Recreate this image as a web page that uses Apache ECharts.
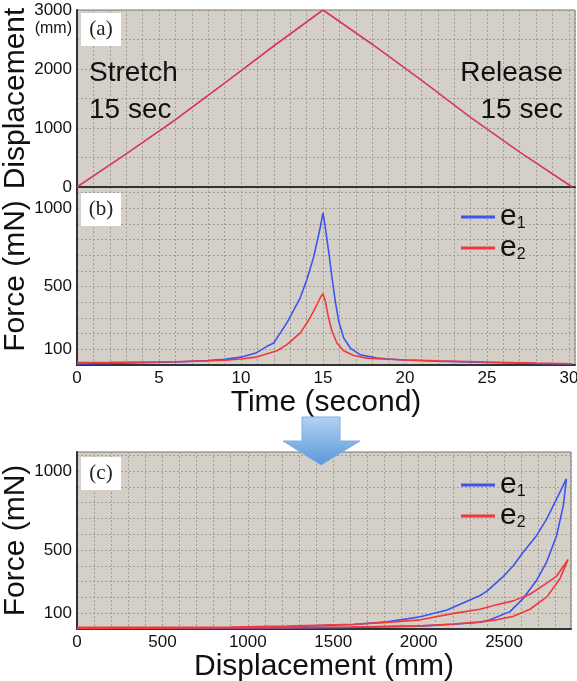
<!DOCTYPE html>
<html><head><meta charset="utf-8">
<script src="https://cdn.jsdelivr.net/npm/echarts@6/dist/echarts.min.js"></script>
<style>html,body{margin:0;padding:0;background:#fff}#c{width:577px;height:681px}</style>
</head><body><div id="c"></div>
<script>
// (a) displacement vs time
const timeA = [0, 3, 6, 9, 12, 15, 18, 21, 24, 27, 30.2];
const dispA = [0, 560, 1140, 1760, 2390, 3000, 2420, 1810, 1180, 590, 0];

// (b) force vs time
const timeB1 = [0, 2, 4, 6, 8, 9, 10, 10.9, 11.59, 12.0, 12.2, 12.8, 13.62, 14.03, 14.43, 14.84, 15.0, 15.14, 15.34, 15.55, 15.75, 15.96, 16.26, 16.67, 17.28, 18.3, 19, 20, 22, 25, 28, 30.2];
const forceB1 = [6, 10, 14, 19, 28, 36, 50, 76, 119, 140, 173, 269, 430, 548, 687, 880, 970, 880, 730, 558, 408, 280, 173, 108, 65, 44, 38, 32, 24, 16, 10, 6];
const timeB2 = [0, 2, 4, 6, 8, 9, 10, 10.9, 11.59, 12.2, 12.8, 13.62, 14.03, 14.43, 14.84, 15.0, 15.14, 15.34, 15.55, 15.85, 16.26, 16.87, 17.69, 18.3, 20, 22, 25, 28, 30.2];
const forceB2 = [16, 17, 19, 21, 27, 31, 38, 50, 72, 91, 130, 205, 269, 344, 430, 455, 408, 301, 215, 140, 91, 61, 44, 40, 32, 26, 19, 12, 8];

// (c) force vs displacement (stretch branch then release branch)
const dispC1 = [0, 300, 600, 900, 1229, 1620, 1815, 2010, 2166, 2283, 2360, 2400, 2498, 2554, 2613, 2691, 2750, 2808, 2865,
                2847, 2808, 2750, 2691, 2613, 2535, 2418, 2360, 2205, 2010, 1600, 1200, 800, 400, 0];
const forceC1 = [6, 6, 7, 8, 14, 28, 45, 78, 120, 175, 212, 240, 335, 400, 487, 592, 697, 823, 950,
                 781, 592, 425, 309, 194, 110, 58, 43, 30, 18, 10, 6, 4, 3, 2];
const dispC2 = [0, 300, 600, 900, 1229, 1620, 1815, 2010, 2205, 2360, 2450, 2554, 2652, 2750, 2808, 2875,
                2828, 2752, 2652, 2554, 2457, 2360, 2205, 2010, 1600, 1200, 800, 400, 0];
const forceC2 = [10, 10, 11, 12, 18, 30, 42, 58, 99, 125, 152, 178, 220, 290, 335, 440,
                 320, 205, 125, 80, 58, 45, 32, 20, 12, 8, 6, 5, 5];

const timeTicks = [0, 5, 10, 15, 20, 25, 30];
const dispTicksA = [0, 1000, 2000, 3000];
const forceTicks = [100, 500, 1000];
const dispTicksC = [0, 500, 1000, 1500, 2000, 2500];

const zip = (a, b) => a.map((v, i) => [v, b[i]]);
const FONT = 'Liberation Sans';
const BLUE = '#3a55f0', RED = '#f03a3a';
const BG = '#d4d0c8';
const gridLine = {show: true, lineStyle: {color: '#a29e97', type: [2, 2], width: 1}};
const axisLine = {show: true, onZero: false, lineStyle: {color: '#333', width: 2}};
const lbl = (list) => ({fontFamily: FONT, fontSize: 17, color: '#111', margin: 5,
  formatter: v => (list.indexOf(Math.round(v * 1000) / 1000) >= 0 ? String(v) : '')});
const nameStyle = {fontFamily: FONT, fontSize: 30, color: '#111'};

const chart = echarts.init(document.getElementById('c'), null, {renderer: 'canvas'});
const gridBase = {show: true, backgroundColor: BG, borderColor: '#777', borderWidth: 1, containLabel: false, outerBoundsMode: 'none'};

const legendBase = (top) => ({
  top: top, left: 456, orient: 'vertical', icon: 'rect', itemWidth: 34, itemHeight: 3, itemGap: 1,
  selectedMode: false, data: ['e1', 'e2'], z: 20,
  formatter: n => 'e{s|' + n.slice(1) + '}',
  textStyle: {fontFamily: FONT, fontSize: 30, lineHeight: 30, color: '#111',
    rich: {s: {fontFamily: FONT, fontSize: 16, lineHeight: 16, verticalAlign: 'bottom', color: '#111'}}}
});

const panelLabel = (y, txt) => ({
  type: 'group', z: 100, children: [
    {type: 'rect', z: 100, shape: {x: 81, y: y, width: 40, height: 33}, style: {fill: '#fff'}},
    {type: 'text', z: 101, x: 101, y: y + 16.5, style: {text: txt, fontFamily: 'Liberation Serif', fontSize: 21, fill: '#222', align: 'center', verticalAlign: 'middle'}}
  ]});

const yName = (name) => ({name: name, nameLocation: 'middle', nameGap: 46, nameMoveOverlap: false, nameTextStyle: nameStyle});

chart.setOption({
  animation: false,
  grid: [
    Object.assign({left: 77, top: 10, right: 2, height: 177}, gridBase),
    Object.assign({left: 77, top: 187, right: 2, height: 178}, gridBase),
    Object.assign({left: 77, top: 452, right: 6, height: 177}, gridBase)
  ],
  xAxis: [
    {gridIndex: 0, type: 'value', min: 0, max: 30.37, interval: 1, axisLine: axisLine, axisTick: {show: false}, axisLabel: {show: false}, splitLine: gridLine},
    {gridIndex: 1, type: 'value', min: 0, max: 30.37, interval: 1, axisLine: axisLine, axisTick: {show: false}, axisLabel: lbl(timeTicks), splitLine: gridLine,
      name: 'Time (second)', nameLocation: 'middle', nameGap: 18, nameTextStyle: nameStyle},
    {gridIndex: 2, type: 'value', min: 0, max: 2892, interval: 100, axisLine: axisLine, axisTick: {show: false}, axisLabel: lbl(dispTicksC), splitLine: gridLine,
      name: 'Displacement (mm)', nameLocation: 'middle', nameGap: 17, nameTextStyle: nameStyle}
  ],
  yAxis: [
    Object.assign({gridIndex: 0, type: 'value', min: 0, max: 3000, interval: 500, axisLine: axisLine, axisTick: {show: false}, axisLabel: lbl(dispTicksA), splitLine: gridLine}, yName('Displacement')),
    Object.assign({gridIndex: 1, type: 'value', min: 0, max: 1135, interval: 100, axisLine: axisLine, axisTick: {show: false}, axisLabel: lbl(forceTicks), splitLine: gridLine}, yName('Force (mN)')),
    Object.assign({gridIndex: 2, type: 'value', min: 0, max: 1120, interval: 100, axisLine: axisLine, axisTick: {show: false}, axisLabel: lbl(forceTicks), splitLine: gridLine}, yName('Force (mN)'))
  ],
  legend: [legendBase(197), legendBase(465)],
  series: [
    {type: 'line', name: 'disp', xAxisIndex: 0, yAxisIndex: 0, data: zip(timeA, dispA), showSymbol: false, lineStyle: {color: '#d4356c', width: 1.6}, itemStyle: {color: '#d4356c'}},
    {type: 'line', name: 'e1', xAxisIndex: 1, yAxisIndex: 1, data: zip(timeB1, forceB1), showSymbol: false, lineStyle: {color: BLUE, width: 1.6}, itemStyle: {color: BLUE}},
    {type: 'line', name: 'e2', xAxisIndex: 1, yAxisIndex: 1, data: zip(timeB2, forceB2), showSymbol: false, lineStyle: {color: RED, width: 1.6}, itemStyle: {color: RED}},
    {type: 'line', name: 'e1', xAxisIndex: 2, yAxisIndex: 2, data: zip(dispC1, forceC1), showSymbol: false, lineStyle: {color: BLUE, width: 1.6}, itemStyle: {color: BLUE}},
    {type: 'line', name: 'e2', xAxisIndex: 2, yAxisIndex: 2, data: zip(dispC2, forceC2), showSymbol: false, lineStyle: {color: RED, width: 1.6}, itemStyle: {color: RED}}
  ],
  graphic: [
    panelLabel(13, '(a)'), panelLabel(193, '(b)'), panelLabel(457, '(c)'),
    {type: 'text', z: 100, x: 72, y: 29, style: {text: '(mm)', fontFamily: FONT, fontSize: 16, fill: '#111', align: 'right', verticalAlign: 'middle'}},
    {type: 'text', z: 100, x: 89, y: 92, style: {text: 'Stretch\n15 sec', fontFamily: FONT, fontSize: 28, lineHeight: 37, fill: '#111', align: 'left', verticalAlign: 'middle'}},
    {type: 'text', z: 100, x: 563, y: 92, style: {text: 'Release\n15 sec', fontFamily: FONT, fontSize: 28, lineHeight: 37, fill: '#111', align: 'right', verticalAlign: 'middle'}},
    {type: 'polygon', z: 100, shape: {points: [[302, 417], [340, 417], [340, 441], [360, 441], [321, 465], [283, 441], [302, 441]]},
      style: {fill: new echarts.graphic.LinearGradient(0, 0, 0, 1, [{offset: 0, color: '#b3d3f3'}, {offset: 1, color: '#5a98d6'}]), stroke: '#7eaee0', lineWidth: 1}}
  ]
});
</script></body></html>
